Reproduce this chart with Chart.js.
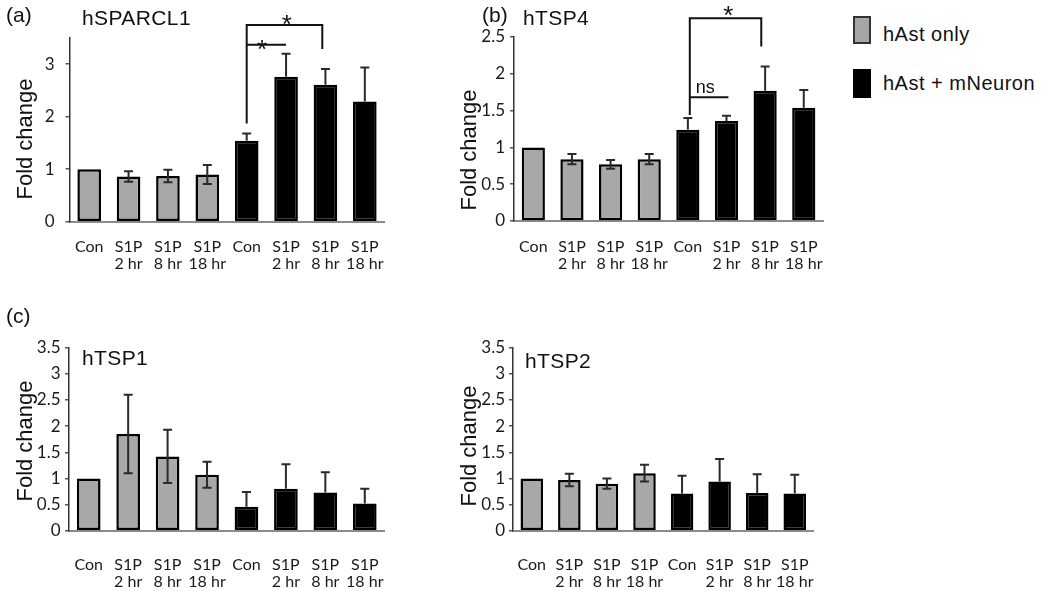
<!DOCTYPE html>
<html>
<head>
<meta charset="utf-8">
<script src="https://cdn.jsdelivr.net/npm/chart.js@4"></script>
<style>
  body { margin: 0; background: #fff; width: 1050px; height: 591px; position: relative; overflow: hidden;
         font-family: "Liberation Sans", Arial, sans-serif; color: #111; }
  canvas { position: absolute; }
  .txt { position: absolute; white-space: nowrap; line-height: 1; }
  .panel { font-size: 21px; }
  .title { font-size: 21px; letter-spacing: 0.4px; }
  .ytitle { position: absolute; font-size: 22px; white-space: nowrap; line-height: 1;
            transform: translate(-50%, -50%) rotate(-90deg); }
  .key { position: absolute; width: 18px; box-sizing: border-box; }
  .keytxt { font-size: 20px; letter-spacing: 0.5px; }
</style>
</head>
<body>

<canvas id="chartA" width="420" height="300" style="left:0;top:0;width:420px;height:300px"></canvas>
<canvas id="chartB" width="400" height="300" style="left:440px;top:0;width:400px;height:300px"></canvas>
<canvas id="chartC" width="420" height="291" style="left:0;top:300px;width:420px;height:291px"></canvas>
<canvas id="chartD" width="400" height="291" style="left:440px;top:300px;width:400px;height:291px"></canvas>

<div class="txt panel" style="left:6px;top:4px">(a)</div>
<div class="txt title" style="left:82px;top:7px">hSPARCL1</div>
<div class="txt panel" style="left:482px;top:4px">(b)</div>
<div class="txt title" style="left:523px;top:7px">hTSP4</div>
<div class="txt panel" style="left:6px;top:305px">(c)</div>
<div class="txt title" style="left:82px;top:347px">hTSP1</div>
<div class="txt title" style="left:525px;top:350px">hTSP2</div>

<div class="ytitle" style="left:25px;top:139px">Fold change</div>
<div class="ytitle" style="left:469px;top:150px">Fold change</div>
<div class="ytitle" style="left:25px;top:441px">Fold change</div>
<div class="ytitle" style="left:469px;top:446px">Fold change</div>

<div class="key" style="left:853px;top:16px;height:28px;background:#a6a6a6;border:2px solid #333"></div>
<div class="txt keytxt" style="left:883px;top:24px">hAst only</div>
<div class="key" style="left:853px;top:69px;height:29px;background:#000"></div>
<div class="txt keytxt" style="left:883px;top:73px">hAst + mNeuron</div>

<script>
// categories and groups
const categories = [['Con'], ['S1P', '2 hr'], ['S1P', '8 hr'], ['S1P', '18 hr'],
                    ['Con'], ['S1P', '2 hr'], ['S1P', '8 hr'], ['S1P', '18 hr']];
const groupColors = ['#a8a8a8', '#a8a8a8', '#a8a8a8', '#a8a8a8', '#000', '#000', '#000', '#000'];

// fold change (mean) and error bars
const sparcl1Values = [1.00, 0.86, 0.87, 0.90, 1.54, 2.76, 2.61, 2.29];
const sparcl1Errors = [0.00, 0.10, 0.12, 0.18, 0.14, 0.44, 0.30, 0.65];
const tsp4Values = [1.00, 0.84, 0.77, 0.84, 1.24, 1.36, 1.77, 1.54];
const tsp4Errors = [0.00, 0.07, 0.06, 0.07, 0.16, 0.07, 0.33, 0.24];
const tsp1Values = [1.00, 1.85, 1.42, 1.07, 0.46, 0.80, 0.73, 0.52];
const tsp1Errors = [0.00, 0.75, 0.51, 0.25, 0.28, 0.47, 0.39, 0.28];
const tsp2Values = [1.00, 0.97, 0.90, 1.10, 0.71, 0.94, 0.72, 0.71];
const tsp2Errors = [0.00, 0.12, 0.10, 0.16, 0.34, 0.43, 0.36, 0.36];

// y tick labels
const sparcl1Ticks = [0, 1, 2, 3];
const tsp4Ticks = [0, 0.5, 1, 1.5, 2, 2.5];
const tspTicks = [0, 0.5, 1, 1.5, 2, 2.5, 3, 3.5];

// significance brackets (category index / data units)
const sparcl1Brackets = [
  { from: 4, to: 5.92, level: 3.75, fromDrop: 1.87, toDrop: 3.29 },
  { from: 4, to: 5, level: 3.37, fromDrop: null, toDrop: null }
];
const sparcl1Marks = [
  { x: 5.02, y: 3.59, text: '*', size: 26 },
  { x: 4.39, y: 3.125, text: '*', size: 26 }
];
const tsp4Brackets = [
  { from: 4.05, to: 5.9, level: 2.755, fromDrop: 1.44, toDrop: 2.37 },
  { from: 4.05, to: 5.05, level: 1.68, fromDrop: null, toDrop: null }
];
const tsp4Marks = [
  { x: 5.05, y: 2.68, text: '*', size: 26 },
  { x: 4.45, y: 1.735, text: 'ns', size: 18 }
];

Chart.defaults.font.family = 'Lato, "Liberation Sans", sans-serif';
Chart.defaults.color = '#1a1a1a';

const errorBars = {
  id: 'errorBars',
  afterDatasetsDraw(chart, args, opts) {
    const { ctx } = chart;
    const y = chart.scales.y;
    const meta = chart.getDatasetMeta(0);
    const values = chart.data.datasets[0].data;
    ctx.save();
    ctx.strokeStyle = '#2a2a2a';
    ctx.lineWidth = 2;
    meta.data.forEach((bar, i) => {
      const e = opts.errors[i];
      if (!e) return;
      const cx = bar.x;
      const hi = y.getPixelForValue(values[i] + e);
      const lo = y.getPixelForValue(values[i] - e);
      const dark = groupColors[i] === '#000';
      ctx.beginPath();
      // on the black bars only the upper whisker shows
      ctx.moveTo(cx, hi); ctx.lineTo(cx, dark ? bar.y : lo);
      ctx.moveTo(cx - 4.5, hi); ctx.lineTo(cx + 4.5, hi);
      if (!dark) { ctx.moveTo(cx - 4.5, lo); ctx.lineTo(cx + 4.5, lo); }
      ctx.stroke();
    });
    ctx.restore();
  }
};

const brackets = {
  id: 'brackets',
  afterDraw(chart, args, opts) {
    const { ctx } = chart;
    const { x, y } = chart.scales;
    ctx.save();
    ctx.strokeStyle = '#111';
    ctx.lineWidth = 2;
    (opts.lines || []).forEach(b => {
      const x1 = x.getPixelForValue(b.from), x2 = x.getPixelForValue(b.to);
      const yl = y.getPixelForValue(b.level);
      ctx.beginPath();
      if (b.fromDrop !== null) { ctx.moveTo(x1, y.getPixelForValue(b.fromDrop)); ctx.lineTo(x1, yl); }
      else ctx.moveTo(x1, yl);
      ctx.lineTo(x2, yl);
      if (b.toDrop !== null) ctx.lineTo(x2, y.getPixelForValue(b.toDrop));
      ctx.stroke();
    });
    ctx.fillStyle = '#111';
    ctx.textAlign = 'center';
    ctx.textBaseline = 'alphabetic';
    (opts.marks || []).forEach(m => {
      ctx.font = (m.size || 20) + 'px "Liberation Sans", Arial, sans-serif';
      ctx.fillText(m.text, x.getPixelForValue(m.x), y.getPixelForValue(m.y));
    });
    ctx.restore();
  }
};

function makePanel(id, values, errors, ticks, yMax, lay, lines, marks) {
  new Chart(document.getElementById(id), {
    type: 'bar',
    data: {
      labels: categories,
      datasets: [{
        data: values,
        backgroundColor: groupColors,
        borderColor: '#000',
        borderWidth: 2.5,
        borderSkipped: false,
        barPercentage: 0.6,
        categoryPercentage: 1
      }]
    },
    options: {
      responsive: false,
      animation: false,
      layout: { padding: { top: lay.top, right: lay.right, left: 0, bottom: 0 } },
      plugins: {
        legend: { display: false },
        tooltip: { enabled: false },
        errorBars: { errors: errors },
        brackets: { lines: lines, marks: marks }
      },
      scales: {
        x: {
          grid: { display: false, drawTicks: false },
          border: { display: true, color: '#8a8a8a', width: 2 },
          ticks: { padding: lay.xPad, font: { size: 16, lineHeight: '17px' }, maxRotation: 0, autoSkip: false },
          afterFit: s => { s.height = lay.xHeight; }
        },
        y: {
          min: 0,
          max: yMax,
          afterBuildTicks: s => { s.ticks = ticks.map(v => ({ value: v })); },
          grid: { drawOnChartArea: false, drawTicks: true, tickLength: 4, color: '#555', lineWidth: 1.5 },
          border: { display: true, color: '#333', width: 1.5 },
          ticks: { padding: lay.yPad, font: { size: 17 }, callback: v => String(v) },
          afterFit: s => { s.width = lay.yWidth; }
        }
      }
    },
    plugins: [errorBars, brackets]
  });
}

makePanel('chartA', sparcl1Values, sparcl1Errors, sparcl1Ticks, 3.5,
  { top: 38, right: 35.5, xHeight: 78.3, yWidth: 69.5, xPad: 17, yPad: 11 },
  sparcl1Brackets, sparcl1Marks);
makePanel('chartB', tsp4Values, tsp4Errors, tsp4Ticks, 2.5,
  { top: 37, right: 8.5, xHeight: 79, yWidth: 74, xPad: 17, yPad: 5 },
  tsp4Brackets, tsp4Marks);
makePanel('chartC', tsp1Values, tsp1Errors, tspTicks, 3.5,
  { top: 47.7, right: 35.5, xHeight: 60.3, yWidth: 69, xPad: 26, yPad: 4.5 },
  [], []);
makePanel('chartD', tsp2Values, tsp2Errors, tspTicks, 3.5,
  { top: 47.7, right: 8.5, xHeight: 60.3, yWidth: 73, xPad: 26, yPad: 4 },
  [], []);
</script>
</body>
</html>
